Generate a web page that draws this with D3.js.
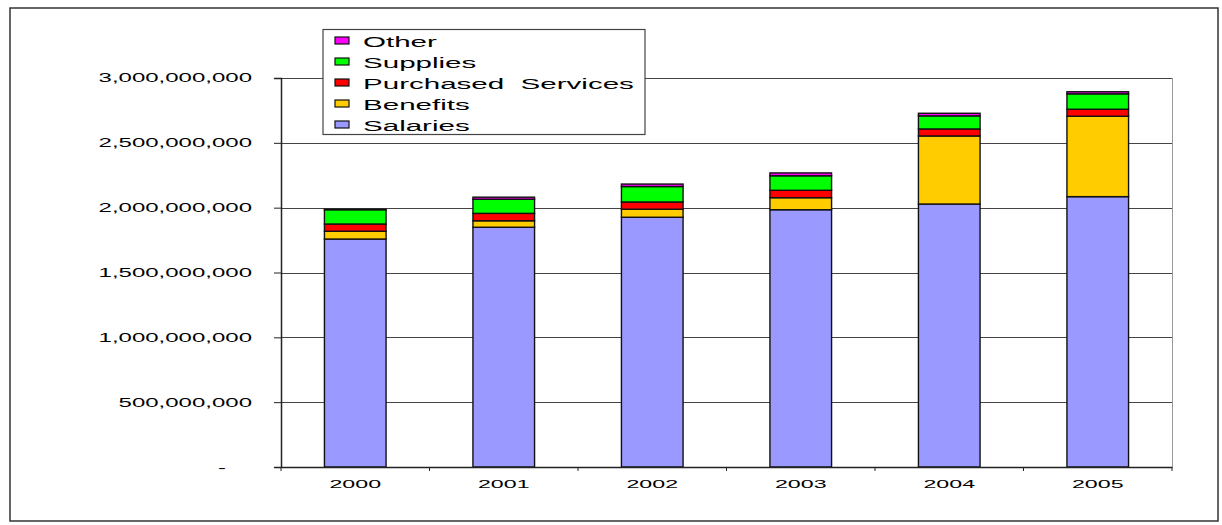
<!DOCTYPE html>
<html lang="en">
<head>
  <meta charset="utf-8">
  <title>Expenditures by Year</title>
  <script type="text/javascript" src="https://cdn.jsdelivr.net/npm/d3@7"></script>
  <style>
    body { margin: 0; background: #fff; }
    text { font-family: "Liberation Sans", Arial, sans-serif; fill: #000; }
  </style>
</head>
<body>
  <div id="chart"></div>
  <script type="text/javascript">
    // values (dollars)
    let years = ["2000", "2001", "2002", "2003", "2004", "2005"];
    let salaries  = [1758000000, 1849000000, 1926000000, 1984000000, 2028000000, 2085000000];
    let benefits  = [  60000000,   50000000,   62000000,   93000000,  525000000,  620000000];
    let purchased = [  56000000,   57000000,   56000000,   57000000,   54000000,   54000000];
    let supplies  = [ 110000000,  109000000,  119000000,  112000000,  101000000,  119000000];
    let other     = [   4000000,   16000000,   19000000,   22000000,   20000000,   16000000];
    let yTicks = [0, 500000000, 1000000000, 1500000000, 2000000000, 2500000000, 3000000000];

    let keys = ["Salaries", "Benefits", "Purchased  Services", "Supplies", "Other"];
    let colors = ["#9999ff", "#ffcc00", "#ff0000", "#00ff00", "#ff00ff"];
    let series = [salaries, benefits, purchased, supplies, other];

    let table = years.map(function(yr, i) {
      let row = { year: yr };
      keys.forEach(function(k, j) { row[k] = series[j][i]; });
      return row;
    });

    let w = 1222, h = 525;
    let svg = d3.select("#chart").append("svg")
      .attr("width", w)
      .attr("height", h);

    // outer frame
    svg.append("rect")
      .attr("x", 10).attr("y", 8)
      .attr("width", 1208).attr("height", 513)
      .attr("fill", "none")
      .attr("stroke", "#333")
      .attr("stroke-width", 1.5);

    let x = d3.scaleBand().domain(years).range([281, 1172]).padding(0);
    let y = d3.scaleLinear().domain([0, 3000000000]).range([467, 78]);
    let color = d3.scaleOrdinal().domain(keys).range(colors);

    // gridlines
    svg.append("g").selectAll("line")
      .data(yTicks.slice(1))
      .enter().append("line")
      .attr("x1", 281).attr("x2", 1172)
      .attr("y1", function(d) { return Math.round(y(d)) + 0.5; })
      .attr("y2", function(d) { return Math.round(y(d)) + 0.5; })
      .attr("stroke", "#444")
      .attr("stroke-width", 1);

    // right edge of plot
    svg.append("line")
      .attr("x1", 1172.5).attr("x2", 1172.5)
      .attr("y1", 78).attr("y2", 467)
      .attr("stroke", "#999");

    // stacked bars
    let stack = d3.stack().keys(keys);
    let barW = x.bandwidth() * 0.415;

    let layers = svg.append("g").selectAll("g")
      .data(stack(table))
      .enter().append("g")
      .attr("fill", function(d) { return color(d.key); });

    layers.selectAll("rect")
      .data(function(d) { return d; })
      .enter().append("rect")
      .attr("x", function(d) { return x(d.data.year) + x.bandwidth() / 2 - barW / 2; })
      .attr("y", function(d) { return y(d[1]); })
      .attr("width", barW)
      .attr("height", function(d) { return y(d[0]) - y(d[1]); })
      .attr("stroke", "#111")
      .attr("stroke-width", 1.4);

    // y axis
    let yAxis = d3.axisLeft(y)
      .tickValues(yTicks)
      .tickSize(7)
      .tickFormat(function(d) { return d === 0 ? "-" : d3.format(",")(d); });

    let gy = svg.append("g")
      .attr("transform", "translate(281,0)")
      .call(yAxis);
    gy.select(".domain").attr("stroke", "#222").attr("stroke-width", 1.5);
    gy.selectAll(".tick line").attr("stroke", "#222");
    gy.selectAll(".tick text")
      .attr("x", 0)
      .attr("font-size", 12)
      .attr("transform", function(d) {
        return d === 0 ? "translate(-55,1) scale(2,1)" : "translate(-29,0) scale(2,1)";
      });

    // x axis
    let xAxis = d3.axisBottom(x).tickSize(0).tickPadding(0);
    let gx = svg.append("g")
      .attr("transform", "translate(0,467)")
      .call(xAxis);
    gx.select(".domain").attr("stroke", "#222").attr("stroke-width", 1.5);
    gx.selectAll(".tick text")
      .attr("y", 0).attr("dy", null)
      .attr("font-size", 11.6)
      .attr("transform", "translate(0,21) scale(2,1)");

    // category boundary ticks
    let bounds = years.map(function(d) { return x(d); }).concat([x.range()[1]]);
    gx.append("g").selectAll("line")
      .data(bounds)
      .enter().append("line")
      .attr("x1", function(d) { return d; })
      .attr("x2", function(d) { return d; })
      .attr("y1", 0).attr("y2", 4)
      .attr("stroke", "#222");

    // legend
    let legend = svg.append("g");
    legend.append("rect")
      .attr("x", 323).attr("y", 29.5)
      .attr("width", 322).attr("height", 105)
      .attr("fill", "#fff")
      .attr("stroke", "#444")
      .attr("stroke-width", 1.2);

    let items = legend.selectAll("g.item")
      .data(keys.slice().reverse())
      .enter().append("g")
      .attr("class", "item")
      .attr("transform", function(d, i) { return "translate(0," + (47 + i * 21) + ")"; });

    items.append("rect")
      .attr("x", 335).attr("y", -10)
      .attr("width", 14).attr("height", 7)
      .attr("fill", function(d) { return color(d); })
      .attr("stroke", "#111")
      .attr("stroke-width", 1.2);

    items.append("text")
      .attr("font-size", 15)
      .style("white-space", "pre")
      .attr("transform", "translate(363,0) scale(1.97,1)")
      .text(function(d) { return d; });
  </script>
</body>
</html>
